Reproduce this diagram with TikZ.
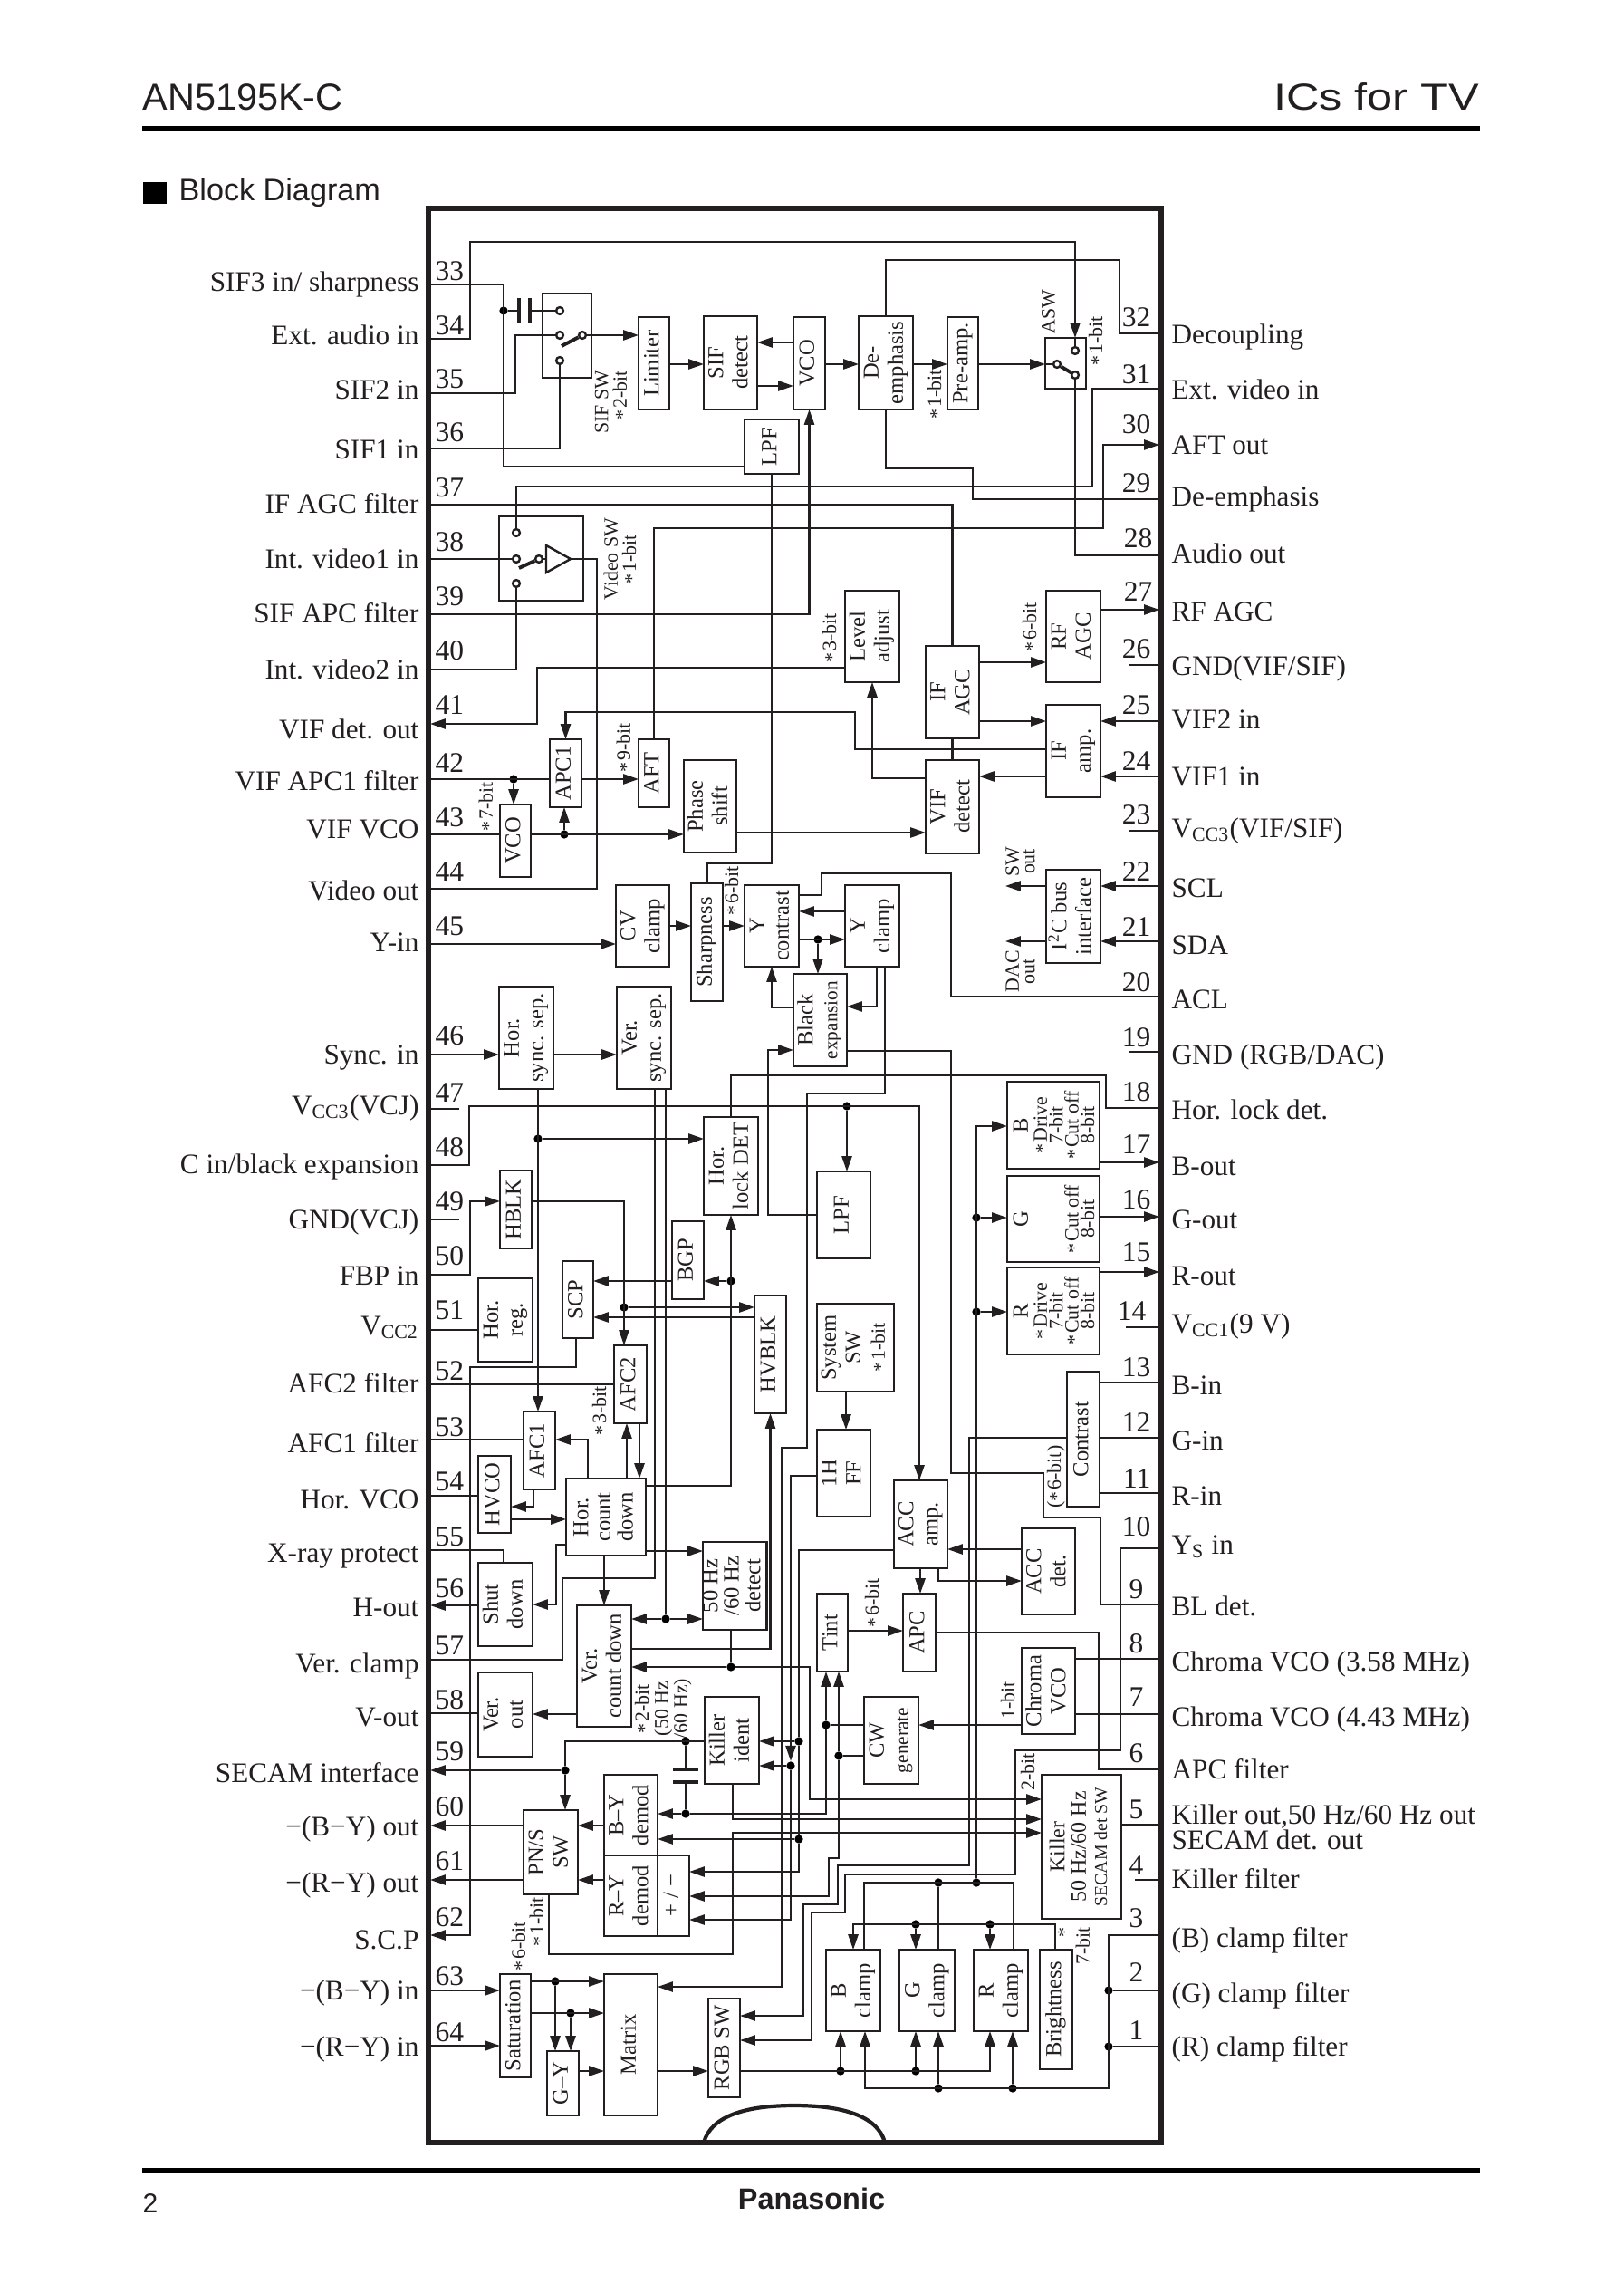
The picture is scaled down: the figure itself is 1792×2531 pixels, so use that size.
\documentclass[tikz,border=0pt]{standalone}
\usepackage{fontspec}
\setmainfont{Liberation Serif}
\newfontfamily\hdfont{Liberation Sans}
\usetikzlibrary{arrows.meta}
\definecolor{ink}{HTML}{231F20}
\newcommand{\rt}[2][c]{\rotatebox{90}{\begin{tabular}{@{}#1@{}}#2\end{tabular}}}
\newcommand{\stb}{\raisebox{-0.25ex}[0pt][0pt]{*}\hspace{0.6pt}}

\begin{document}
\begin{tikzpicture}[
    x=0.3333pt, y=-0.3333pt,
    color=ink,
    >={Triangle[length=5.6pt,width=3.7pt]},
    sz/.style 2 args = {minimum width=#1*0.3333pt, minimum height=#2*0.3333pt},
    blk/.style    = {draw, line width=0.8pt, anchor=north west, inner sep=0pt, outer sep=0pt,
                     font=\fontsize{8.2}{9}\selectfont},
    chipbox/.style= {draw, line width=1.7pt, anchor=north west, inner sep=0pt, outer sep=0pt},
    wr/.style     = {draw, line width=0.68pt},
    sig/.style    = {draw, line width=0.68pt, ->},
    plate/.style  = {draw, line width=1.3pt},
    blade/.style  = {draw, line width=1.3pt},
    dot/.style    = {circle, fill=black, inner sep=0pt, minimum size=3.1pt},
    contact/.style= {circle, draw, fill=white, line width=0.8pt, inner sep=0pt, minimum size=2.6pt},
    note/.style   = {inner sep=0pt, font=\fontsize{7.3}{5.8}\selectfont},
    pinnum/.style = {inner sep=0pt, font=\fontsize{10.5}{12}\selectfont},
    pinlbl/.style = {inner sep=0pt, font=\fontsize{10.4}{12}\selectfont},
    hd/.style     = {inner sep=0pt, font=\hdfont\fontsize{13.8}{16}\selectfont},
    hrule/.style  = {draw, color=black, line width=2pt},
  ]
  \path[use as bounding box, fill=white] (0,0) rectangle (1792,2531);

  % ===================================================================
  % Page header and footer
  % ===================================================================
  \node[hd, anchor=base west] (title) at (157,122) {AN5195K-C};
  \node[hd, anchor=base east] (family) at (1634,122) {\scalebox{1.22}[1]{ICs for TV}};
  \draw[hrule] (157,142) -- (1634,142);
  \node[fill=black, sz={26}{24}, anchor=north west, inner sep=0pt] (sq) at (157,200) {};
  \node[hd, anchor=base west, font=\hdfont\fontsize{11.4}{13}\selectfont] (head) at (197,222) {Block Diagram};
  \draw[hrule] (157,2396) -- (1634,2396);
  \node[hd, anchor=base west, font=\hdfont\fontsize{10}{12}\selectfont] (page) at (157,2442) {2};
  \node[hd, anchor=base, font=\hdfont\bfseries\fontsize{10.8}{13}\selectfont] (logo) at (896,2438) {Panasonic};

  % ===================================================================
  % Package outline with the notch
  % ===================================================================
  \node[chipbox, sz={809}{2135}] (chip) at (473,230) {};
  \draw[line width=1.4pt] (777,2365) .. controls (785,2335) and (825,2324) .. (877,2324)
    .. controls (929,2324) and (969,2335) .. (977,2365);

  % ----- left pins: number / wire y / number base / label base / label -----
  \foreach \n/\y/\b/\l/\s in {
      33/314/308/319/{SIF3 in/ sharpness}, 34/374/368/378/{Ext. audio in},
      35/434/427/438/{SIF2 in}, 36/495/486/504/{SIF1 in},
      37/557/547/564/{IF AGC filter}, 38/617/607/625/{Int. video1 in},
      39/678/667/685/{SIF APC filter}, 40/739/727/746/{Int. video2 in},
      41/799/787/813/{VIF det. out}, 42/860/851/869/{VIF APC1 filter},
      43/921/911/922/{VIF VCO}, 44/981/971/990/{Video out},
      45/1042/1031/1047/{Y-in}, 46/1164/1152/1171/{Sync. in},
      47/1224/1215/1227/{V\textsubscript{CC3}(VCJ)}, 48/1286/1275/1292/{C in/black expansion},
      49/1346/1335/1353/{GND(VCJ)}, 50/1407/1395/1415/{FBP in},
      51/1468/1455/1470/{V\textsubscript{CC2}}, 52/1528/1522/1534/{AFC2 filter},
      53/1589/1584/1600/{AFC1 filter}, 54/1651/1644/1662/{Hor. VCO},
      55/1711/1705/1721/{X-ray protect}, 56/1772/1762/1781/{H-out},
      57/1832/1825/1843/{Ver. clamp}, 58/1891/1885/1902/{V-out},
      59/1954/1942/1964/{SECAM interface}, 60/2015/2003/2023/{−(B−Y) out},
      61/2075/2063/2085/{−(R−Y) out}, 62/2136/2125/2148/{S.C.P},
      63/2197/2190/2204/{−(B−Y) in}, 64/2258/2252/2266/{−(R−Y) in}} {
    \coordinate (p\n) at (475,\y);
    \node[pinnum, anchor=base west] (num\n) at (480,\b+1.5) {\n};
    \node[pinlbl, anchor=base east] (lbl\n) at (463,\l+3) {\s};
  }

  % ----- right pins: number / number right edge / wire y / number base / label base / label -----
  \foreach \n/\r/\y/\b/\l/\s in {
      32/1271/368/359/377/{Decoupling}, 31/1271/429/422/438/{Ext. video in},
      30/1271/491/477/499/{AFT out}, 29/1271/551/542/556/{De-emphasis},
      28/1273/613/603/619/{Audio out}, 27/1273/673/662/683/{RF AGC},
      26/1271/734/725/743/{GND(VIF/SIF)}, 25/1271/796/787/801/{VIF2 in},
      24/1271/857/849/864/{VIF1 in}, 23/1271/917/908/921/{V\textsubscript{CC3}(VIF/SIF)},
      22/1271/978/971/987/{SCL}, 21/1271/1039/1032/1050/{SDA},
      20/1271/1100/1093/1110/{ACL}, 19/1271/1161/1154/1171/{GND (RGB/DAC)},
      18/1271/1223/1214/1232/{Hor. lock det.}, 17/1271/1283/1272/1294/{B-out},
      16/1271/1343/1333/1353/{G-out}, 15/1271/1404/1391/1415/{R-out},
      14/1266/1465/1456/1468/{V\textsubscript{CC1}(9 V)}, 13/1271/1526/1518/1536/{B-in},
      12/1271/1587/1579/1597/{G-in}, 11/1271/1648/1641/1658/{R-in},
      10/1271/1709/1694/1712/{Y\textsubscript{S} in}, 9/1263/1771/1763/1780/{BL det.},
      8/1263/1831/1823/1841/{Chroma VCO (3.58 MHz)}, 7/1263/1892/1882/1902/{Chroma VCO (4.43 MHz)},
      6/1263/1953/1944/1960/{APC filter}, 5/1263/2014/2006/2010/{Killer out,50 Hz/60 Hz out},
      4/1263/2075/2068/2081/{Killer filter}, 3/1263/2136/2126/2146/{(B) clamp filter},
      2/1263/2197/2186/2207/{(G) clamp filter}, 1/1263/2259/2250/2266/{(R) clamp filter}} {
    \coordinate (p\n) at (1280,\y);
    \node[pinnum, anchor=base east] (num\n) at (\r,\b+1.5) {\n};
    \node[pinlbl, anchor=base west] (lbl\n) at (1293,\l+3) {\s};
  }
  \node[pinlbl, anchor=base west] (lblsec) at (1293,2041) {SECAM det. out};

  % ===================================================================
  % Blocks (top left corner in reference pixels, then size)
  % ===================================================================
  \node[blk, sz={54}{93}] (sifsw) at (599,324) {};
  \node[blk, sz={34}{102}] (lim) at (705,350) {\rt{Limiter}};
  \node[blk, sz={59}{103}] (sifdet) at (777,349) {\rt{SIF\\detect}};
  \node[blk, sz={35}{102}] (vcoa) at (876,350) {\rt{VCO}};
  \node[blk, sz={60}{103}] (deem) at (948,349) {\rt{De-\\emphasis}};
  \node[blk, sz={34}{102}] (preamp) at (1046,350) {\rt{Pre-amp.}};
  \node[blk, sz={45}{56}] (asw) at (1154,373) {};
  \node[blk, sz={60}{60}] (lpfa) at (822,463) {\rt{LPF}};
  \node[blk, sz={93}{93}] (vidsw) at (551,570) {};
  \node[blk, sz={60}{101}] (lvl) at (933,652) {\rt{Level\\adjust}};
  \node[blk, sz={59}{102}] (ifagc) at (1022,713) {\rt{IF\\AGC}};
  \node[blk, sz={59}{103}] (vifdet) at (1022,839) {\rt{VIF\\detect}};
  \node[blk, sz={60}{101}] (rfagc) at (1155,652) {\rt{RF\\AGC}};
  \node[blk, sz={60}{102}] (ifamp) at (1155,778) {\rt{IF\\amp.}};
  \node[blk, sz={60}{103}] (itc) at (1155,960) {\rt{I\textsuperscript{2}C bus\\interface}};
  \node[blk, sz={35}{75}] (apcone) at (607,816) {\rt{APC1}};
  \node[blk, sz={34}{75}] (aft) at (705,816) {\rt{AFT}};
  \node[blk, sz={34}{80}] (vcob) at (552,888) {\rt{VCO}};
  \node[blk, sz={58}{102}] (phase) at (755,839) {\rt{Phase\\shift}};
  \node[blk, sz={59}{90}] (cvcl) at (680,977) {\rt{CV\\clamp}};
  \node[blk, sz={35}{130}] (sharp) at (763,975) {\rt{Sharpness}};
  \node[blk, sz={60}{90}] (ycon) at (822,977) {\rt{Y\\contrast}};
  \node[blk, sz={60}{90}] (ycl) at (933,977) {\rt{Y\\clamp}};
  \node[blk, sz={59}{102}] (black) at (876,1075)
    {\rt{Black\\{\fontsize{7.1}{9}\selectfont expansion}}};
  \node[blk, sz={60}{113}] (hsync) at (551,1089) {\rt{Hor.\\sync. sep.}};
  \node[blk, sz={60}{113}] (vsync) at (681,1089) {\rt{Ver.\\sync. sep.}};
  \node[blk, sz={60}{108}] (hlock) at (777,1233) {\rt{Hor.\\lock DET}};
  \node[blk, sz={59}{96}] (lpfb) at (902,1293) {\rt{LPF}};
  \node[blk, sz={102}{96}, font=\fontsize{7.3}{5.8}\selectfont] (bblk) at (1112,1194)
    {\hspace*{3.3pt}\rt{\smash{\fontsize{8.2}{5.8}\selectfont B}\\[1.2pt]\smash{\stb Drive}\\\smash{7-bit}\\\smash{\stb Cut off}\\\smash{8-bit}}};
  \node[blk, sz={102}{95}, font=\fontsize{7.3}{5.8}\selectfont] (gblk) at (1112,1298)
    {\hspace*{3.3pt}\rt{\smash{\fontsize{8.2}{5.8}\selectfont G}\\[1.2pt]~\\~\\\smash{\stb Cut off}\\\smash{8-bit}}};
  \node[blk, sz={102}{96}, font=\fontsize{7.3}{5.8}\selectfont] (rblk) at (1112,1399)
    {\hspace*{3.3pt}\rt{\smash{\fontsize{8.2}{5.8}\selectfont R}\\[1.2pt]\smash{\stb Drive}\\\smash{7-bit}\\\smash{\stb Cut off}\\\smash{8-bit}}};
  \node[blk, sz={35}{86}] (hblk) at (552,1292) {\rt{HBLK}};
  \node[blk, sz={35}{86}] (bgp) at (742,1348) {\rt{BGP}};
  \node[blk, sz={34}{85}] (scp) at (621,1392) {\rt{SCP}};
  \node[blk, sz={60}{92}] (hreg) at (528,1411) {\rt{Hor.\\reg.}};
  \node[blk, sz={35}{130}] (hvblk) at (833,1430) {\rt{HVBLK}};
  \node[blk, sz={85}{97}] (syssw) at (902,1439)
    {\rt{System\\SW\\{\fontsize{7.3}{9}\selectfont\stb 1-bit}}};
  \node[blk, sz={36}{149}] (contrast) at (1178,1514) {\rt{Contrast}};
  \node[blk, sz={36}{86}] (afctwo) at (678,1485) {\rt{AFC2}};
  \node[blk, sz={35}{86}] (afcone) at (578,1558) {\rt{AFC1}};
  \node[blk, sz={59}{96}] (ffh) at (902,1578) {\rt{1H\\FF}};
  \node[blk, sz={36}{85}] (hvco) at (528,1607) {\rt{HVCO}};
  \node[blk, sz={88}{85}, font=\fontsize{8.2}{8.2}\selectfont] (hcd) at (625,1632) {\rt{Hor.\\count\\down}};
  \node[blk, sz={59}{97}] (accamp) at (987,1634) {\rt{ACC\\amp.}};
  \node[blk, sz={59}{95}] (accdet) at (1128,1687) {\rt{ACC\\det.}};
  \node[blk, sz={70}{97}, font=\fontsize{8.2}{7.6}\selectfont] (detfifty) at (776,1702) {\rt{50 Hz\\/60 Hz\\detect}};
  \node[blk, sz={60}{92}] (shut) at (528,1725) {\rt{Shut\\down}};
  \node[blk, sz={36}{86}] (apc) at (997,1759) {\rt{APC}};
  \node[blk, sz={34}{86}] (tint) at (902,1759) {\rt{Tint}};
  \node[blk, sz={60}{134}] (vcd) at (637,1772) {\rt{Ver.\\count down}};
  \node[blk, sz={59}{95}] (chroma) at (1128,1819) {\rt{Chroma\\VCO}};
  \node[blk, sz={60}{93}] (vout) at (528,1846) {\rt{Ver.\\out}};
  \node[blk, sz={60}{96}] (kid) at (778,1873) {\rt{Killer\\ident}};
  \node[blk, sz={60}{96}] (cw) at (954,1873)
    {\rt{CW\\{\fontsize{7.1}{9}\selectfont generate}}};
  \node[blk, sz={88}{159}, font=\fontsize{8}{7.8}\selectfont] (killer) at (1150,1959)
    {\rt{Killer\\50 Hz/60 Hz\\{\fontsize{6.6}{7.8}\selectfont SECAM det SW}}};
  \node[blk, sz={59}{89}] (bydem) at (667,1959) {\rt{B–Y\\demod}};
  \node[blk, sz={59}{89}] (rydem) at (667,2048) {\rt{R–Y\\demod}};
  \node[blk, sz={35}{89}] (pm) at (726,2048) {\rt{+ / −}};
  \node[blk, sz={60}{93}] (pns) at (578,1998) {\rt{PN/S\\SW}};
  \node[blk, sz={60}{90}] (clb) at (912,2152) {\rt{B\\clamp}};
  \node[blk, sz={61}{90}] (clg) at (993,2152) {\rt{G\\clamp}};
  \node[blk, sz={60}{90}] (clr) at (1075,2152) {\rt{R\\clamp}};
  \node[blk, sz={36}{132}] (bright) at (1148,2152) {\rt{Brightness}};
  \node[blk, sz={34}{114}] (sat) at (552,2179) {\rt{Saturation}};
  \node[blk, sz={59}{156}] (matrix) at (667,2179) {\rt{Matrix}};
  \node[blk, sz={35}{109}] (rgbsw) at (782,2206) {\rt{RGB SW}};
  \node[blk, sz={35}{71}] (gy) at (604,2264) {\rt{G–Y}};

  % ----- bit notes -----
  \node[note] (nsif) at (677,444) {\rt[r]{SIF SW\\\stb 2-bit}};
  \node[note] (nvid) at (687,617) {\rt{Video SW\\\stb 1-bit}};
  \node[note] (npre) at (1034,435) {\rt{\stb 1-bit}};
  \node[note] (nasw) at (1160,344) {\rt{ASW}};
  \node[note] (nasb) at (1212,376) {\rt{\stb 1-bit}};
  \node[note] (nvco) at (539,890) {\rt{\stb 7-bit}};
  \node[note] (naft) at (691,825) {\rt{\stb 9-bit}};
  \node[note] (nyc) at (810,983) {\rt{\stb 6-bit}};
  \node[note] (nlvl) at (918,704) {\rt{\stb 3-bit}};
  \node[note] (nrf) at (1139,692) {\rt{\stb 6-bit}};
  \node[note] (nsw) at (1129,951) {\rt{SW\\out}};
  \node[note] (ndac) at (1129,1072) {\rt{DAC\\out}};
  \node[note] (nafc) at (664,1557) {\rt{\stb 3-bit}};
  \node[note, font=\fontsize{7.3}{6.8}\selectfont] (nver) at (733,1886)
    {\rt{\stb 2-bit\\(50 Hz\\/60 Hz)}};
  \node[note] (ntint) at (965,1769) {\rt{\stb 6-bit}};
  \node[note] (ncv) at (1115,1877) {\rt{1-bit}};
  \node[note] (ncon) at (1166,1630) {\rt{(\stb 6-bit)}};
  \node[note] (nkil) at (1137,1956) {\rt{2-bit}};
  \node[note] (npns) at (595,2121) {\rt{\stb 1-bit}};
  \node[note] (nsat) at (575,2148) {\rt{\stb 6-bit}};
  \node[note] (nbr) at (1188,2148) {\rt[r]{*\\7-bit}};

  % ----- switch contacts -----
  \node[contact] (cat) at (618,343) {};
  \node[contact] (cam) at (618,370) {};
  \node[contact] (cab) at (618,398) {};
  \node[contact] (car) at (643,370) {};
  \node[contact] (cbt) at (1187,387) {};
  \node[contact] (cbb) at (1187,414) {};
  \node[contact] (cbm) at (1167,402) {};
  \node[contact] (cct) at (570,588) {};
  \node[contact] (ccm) at (570,617) {};
  \node[contact] (ccb) at (570,644) {};
  \node[contact] (ccr) at (595,617) {};

  % ----- junction dots -----
  \node[dot] (dcap) at (556,343) {};
  \node[dot] (dvco) at (567,860) {};
  \node[dot] (dapc) at (623,921) {};
  \node[dot] (dhs) at (594,1257) {};
  \node[dot] (dlpf) at (935,1221) {};
  \node[dot] (dblk) at (903,1037) {};
  \node[dot] (dbgp) at (807,1414) {};
  \node[dot] (dscp) at (689,1443) {};
  \node[dot] (dgb) at (1078,1344) {};
  \node[dot] (drb) at (1078,1448) {};
  \node[dot] (dvs) at (735,1787) {};
  \node[dot] (dfty) at (807,1840) {};
  \node[dot] (dfh) at (873,1949) {};
  \node[dot] (dki) at (882,1922) {};
  \node[dot] (dby) at (882,2030) {};
  \node[dot] (dck) at (757,1922) {};
  \node[dot] (dcb) at (757,2002) {};
  \node[dot] (dpn) at (624,1954) {};
  \node[dot] (dtint) at (912,1904) {};
  \node[dot] (dcw) at (926,1938) {};
  \node[dot] (dclg) at (1036,2078) {};
  \node[dot] (dct) at (1078,2078) {};
  \node[dot] (dbg) at (1011,2124) {};
  \node[dot] (dbr) at (1093,2124) {};
  \node[dot] (drgb) at (928,2286) {};
  \node[dot] (drgg) at (1011,2286) {};
  \node[dot] (dfg) at (1036,2305) {};
  \node[dot] (dfr) at (1118,2305) {};
  \node[dot] (dptwo) at (1224,2197) {};
  \node[dot] (dpone) at (1224,2259) {};
  \node[dot] (dgyb) at (613,2187) {};
  \node[dot] (dgyr) at (630,2222) {};

  % ===================================================================
  % Sound section (pins 28--40)
  % ===================================================================
  \draw[wr] (p33) -| (556,515) -- (lpfa.west |- 0,515);
  \draw[wr] (dcap) -- (573,343);
  \draw[wr] (585,343) -- (cat);
  \draw[plate] (573,329) -- (573,357);
  \draw[plate] (585,329) -- (585,357);
  \draw[sig] (p34) -| (519,267) -| (asw.north -| cbt);
  \draw[wr] (asw.north -| cbt) -- (cbt);
  \draw[wr] (p35) -| (569,370) -- (cam);
  \draw[wr] (p36) -| (cab);
  \draw[blade] (620,382) -- (car);
  \draw[sig] (car) -- (lim.west |- car);
  \draw[sig] (lim.east |- 0,402) -- (sifdet.west |- 0,402);
  \draw[sig] (vcoa.west |- 0,378) -- (sifdet.east |- 0,378);
  \draw[sig] (sifdet.east |- 0,426) -- (vcoa.west |- 0,426);
  \draw[sig] (vcoa.east |- 0,402) -- (deem.west |- 0,402);
  \draw[sig] (deem.east |- 0,402) -- (preamp.west |- 0,402);
  \draw[sig] (preamp.east |- 0,402) -- (asw.west |- 0,402);
  \draw[wr] (asw.west |- 0,402) -- (cbm);
  \draw[blade] (cbm) -- (cbb);
  \draw[wr] (cbb) |- (p28);
  \draw[wr] (deem.north) |- (1236,287) |- (p32);
  \draw[wr] (deem.south) |- (1074,517) |- (p29);
  \draw[wr] (p37) -| (ifagc.north);
  \draw[wr] (ifagc.south) -- (vifdet.north);
  \draw[wr] (p38) -- (ccm);
  \draw[blade] (573,627) -- (ccr);
  \draw[wr] (ccr) -- (603,617);
  \coordinate (vtip) at (630,617);
  \draw[line width=0.8pt] (603,602) -- (603,632) -- (vtip) -- cycle;
  \draw[wr] (p44) -| (659,617) -- (vtip);
  \draw[wr] (cct) |- (1206,537) |- (p31);
  \draw[wr] (p40) -| (ccb);
  \draw[sig] (p39) -| (vcoa.south);
  \draw[wr] (lpfa.south) -- (852,953) -| (sharp.north);

  % ===================================================================
  % Video IF section (pins 20--27, 41--45)
  % ===================================================================
  \draw[sig] (aft.north) |- (1218,583) |- (p30);
  \draw[sig] (lvl.west |- 0,737) -| (593,799) -- (p41);
  \draw[sig] (vifdet.west |- 0,859) -| (lvl.south);
  \draw[sig] (ifamp.west |- 0,827) -| (944,786) -| (apcone.north);
  \draw[wr] (p42) -- (apcone.west |- p42);
  \draw[sig] (dvco) -- (vcob.north -| dvco);
  \draw[sig] (apcone.east |- p42) -- (aft.west |- p42);
  \draw[wr] (p43) -- (vcob.west |- p43);
  \draw[sig] (vcob.east |- p43) -- (phase.west |- p43);
  \draw[sig] (dapc) -- (apcone.south -| dapc);
  \draw[sig] (phase.east |- 0,919) -- (vifdet.west |- 0,919);
  \draw[sig] (p45) -- (cvcl.west |- p45);
  \draw[sig] (ifagc.east |- 0,731) -- (rfagc.west |- 0,731);
  \draw[sig] (ifagc.east |- p25) -- (ifamp.west |- p25);
  \draw[sig] (p25) -- (ifamp.east |- p25);
  \draw[sig] (p24) -- (ifamp.east |- p24);
  \draw[sig] (ifamp.west |- p24) -- (vifdet.east |- p24);
  \draw[sig] (rfagc.east |- p27) -- (p27);
  \coordinate (stbtf) at (1247,734);
  \coordinate (stbtt) at (1247,917);
  \coordinate (stbot) at (1247,1161);
  \coordinate (stbft) at (1243,1465);
  \coordinate (stbfr) at (1253,2075);
  \coordinate (stbfs) at (507,1224);
  \coordinate (stbfn) at (507,1346);
  \draw[wr] (stbtf) -- (p26);
  \draw[wr] (stbtt) -- (p23);
  \draw[wr] (stbot) -- (p19);
  \draw[wr] (stbft) -- (p14);
  \draw[wr] (stbfr) -- (p4);
  \draw[wr] (p47) -- (stbfs);
  \draw[wr] (p49) -- (stbfn);
  \draw[sig] (p22) -- (itc.east |- p22);
  \draw[sig] (p21) -- (itc.east |- p21);
  \coordinate (swout) at (1110,978);
  \coordinate (dacout) at (1110,1039);
  \draw[sig] (itc.west |- swout) -- (swout);
  \draw[sig] (itc.west |- dacout) -- (dacout);

  % ===================================================================
  % Luminance path
  % ===================================================================
  \draw[wr] (p20) -| (1050,964) -| (907,988) -- (ycon.east |- 0,988);
  \draw[sig] (cvcl.east |- 0,1022) -- (sharp.west |- 0,1022);
  \draw[sig] (sharp.east |- 0,1022) -- (ycon.west |- 0,1022);
  \draw[sig] (ycl.west |- 0,1006) -- (ycon.east |- 0,1006);
  \draw[sig] (ycon.east |- 0,1037) -- (ycl.west |- 0,1037);
  \draw[sig] (dblk) -- (black.north -| dblk);
  \draw[sig] (ycl.south -| 968,0) |- (black.east |- 0,1111);
  \draw[sig] (ycl.south -| 977,0) |- (891,1207) |- (863,1598) |- (matrix.east |- 0,2193);
  \draw[sig] (black.west |- 0,1112) -| (ycon.south);
  \draw[wr] (black.east |- 0,1160) -| (1050,1626) -| (1152,1675) -| (1215,1771) -- (p9);
  \draw[sig] (lpfb.west |- 0,1341) -| (848,1159) -- (black.west |- 0,1159);

  % ===================================================================
  % Sync and deflection (pins 46--58)
  % ===================================================================
  \draw[sig] (p46) -- (hsync.west |- p46);
  \draw[sig] (hsync.east |- p46) -- (vsync.west |- p46);
  \draw[sig] (hsync.south -| 594,0) -- (afcone.north -| 594,0);
  \draw[sig] (dhs) -- (hlock.west |- dhs);
  \draw[wr] (vsync.south -| 723,0) |- (621,1742) |- (p57);
  \draw[wr] (vsync.south -| 735,0) -- (dvs);
  \draw[sig] (dvs) -- (vcd.east |- dvs);
  \draw[sig] (dvs) -- (detfifty.west |- dvs);
  \draw[wr] (hlock.north -| 807,0) |- (1221,1187) |- (p18);
  \draw[sig] (hcd.east |- 0,1640) -| (hlock.south -| 807,0);
  \draw[sig] (dbgp) -- (bgp.east |- dbgp);
  \draw[sig] (bgp.west |- dbgp) -- (scp.east |- dbgp);
  \draw[sig] (hblk.east |- 0,1326) -| (afctwo.north -| 689,0);
  \draw[sig] (dscp) -- (hvblk.west |- dscp);
  \draw[sig] (hvblk.west |- 0,1454) -- (scp.east |- 0,1454);
  \draw[sig] (scp.south -| 636,0) |- (519,1509) |- (p62);
  \draw[sig] (p48) -| (518,1221) -| (accamp.north -| 1015,0);
  \draw[sig] (dlpf) -- (lpfb.north -| dlpf);
  \draw[sig] (p50) -| (519,1326) -- (hblk.west |- 0,1326);
  \draw[wr] (p51) -- (hreg.west |- p51);
  \draw[wr] (p52) -- (afctwo.west |- p52);
  \draw[wr] (p53) -- (afcone.west |- p53);
  \draw[wr] (p54) -- (hvco.west |- p54);
  \draw[sig] (afcone.south -| 589,0) |- (hvco.east |- 0,1663);
  \draw[sig] (hvco.east |- 0,1677) -- (hcd.west |- 0,1677);
  \draw[sig] (hcd.north -| 649,0) |- (afcone.east |- 0,1589);
  \draw[sig] (hcd.north -| 692,0) -- (afctwo.south -| 692,0);
  \draw[sig] (afctwo.south -| 706,0) -- (hcd.north -| 706,0);
  \draw[sig] (hcd.east |- 0,1712) -- (detfifty.west |- 0,1712);
  \draw[sig] (hcd.west |- 0,1705) -| (614,1771) -- (shut.east |- 0,1771);
  \draw[sig] (hcd.south -| 667,0) -- (vcd.north -| 667,0);
  \draw[wr] (p55) -| (shut.north -| 556,0);
  \draw[sig] (shut.west |- p56) -- (p56);
  \draw[wr] (p58) -- (vout.west |- p58);
  \draw[sig] (vcd.west |- 0,1892) -- (vout.east |- 0,1892);
  \draw[sig] (vcd.east |- 0,1820) -| (hvblk.south);
  \draw[wr] (detfifty.south -| 807,0) -- (dfty);
  \draw[sig] (dfty) -- (vcd.east |- dfty);
  \draw[sig] (dfty) -| (894,1986) -- (killer.west |- 0,1986);

  % ===================================================================
  % Chroma and colour difference path
  % ===================================================================
  \draw[sig] (kid.south -| 809,0) |- (killer.west |- 0,2008);
  \draw[sig] (pns.south -| 606,0) |- (809,2157) |- (killer.west |- 0,2023);
  \draw[sig] (ffh.west |- 0,1629) -| (dfh);
  \draw[sig] (dfh) -- (kid.east |- dfh);
  \draw[sig] (dfh) |- (pm.east |- 0,2119);
  \draw[wr] (accamp.west |- 0,1711) -| (dki);
  \draw[sig] (dki) -- (kid.east |- dki);
  \draw[wr] (dki) -- (dby);
  \draw[sig] (dby) -- (bydem.east |- dby);
  \draw[sig] (dby) |- (pm.east |- 0,2066);
  \draw[wr] (kid.west |- 0,1922) -| (dpn);
  \draw[sig] (dpn) -- (pns.north -| dpn);
  \draw[sig] (dpn) -- (p59);
  \draw[wr] (dck) -- (757,1953);
  \draw[plate] (743,1953) -- (771,1953);
  \draw[plate] (743,1967) -- (771,1967);
  \draw[wr] (757,1967) -- (dcb);
  \draw[sig] (dcb) -- (bydem.east |- dcb);
  \draw[wr] (dcb) -| (dtint);
  \draw[sig] (dtint) -- (tint.south -| dtint);
  \draw[wr] (dtint) -- (cw.west |- dtint);
  \draw[sig] (dcw) -- (tint.south -| dcw);
  \draw[wr] (dcw) -- (cw.west |- dcw);
  \draw[sig] (dcw) |- (915,2051) |- (pm.east |- 0,2093);
  \draw[sig] (chroma.west |- 0,1904) -- (cw.east |- 0,1904);
  \draw[sig] (tint.east |- 0,1800) -- (apc.west |- 0,1800);
  \draw[sig] (syssw.south -| 934,0) -- (ffh.north -| 934,0);
  \draw[sig] (accamp.south -| 1016,0) -- (apc.north -| 1016,0);
  \draw[sig] (accdet.west |- 0,1710) -- (accamp.east |- 0,1710);
  \draw[sig] (accamp.south -| 1036,0) |- (accdet.west |- 0,1745);
  \draw[wr] (apc.east |- 0,1802) -| (1213,1953) -- (p6);
  \draw[wr] (chroma.east |- p8) -- (p8);
  \draw[wr] (chroma.east |- p7) -- (p7);
  \draw[wr] (killer.east |- p5) -- (p5);
  \draw[sig] (bydem.west |- p60) -- (pns.east |- p60);
  \draw[sig] (rydem.west |- p61) -- (pns.east |- p61);
  \draw[sig] (pns.west |- p60) -- (p60);
  \draw[sig] (pns.west |- p61) -- (p61);

  % ===================================================================
  % RGB section: matrix, clamps, outputs
  % ===================================================================
  \draw[sig] (p63) -- (sat.west |- p63);
  \draw[sig] (p64) -- (sat.west |- p64);
  \draw[sig] (sat.east |- dgyb) -- (matrix.west |- dgyb);
  \draw[sig] (sat.east |- dgyr) -- (matrix.west |- dgyr);
  \draw[sig] (dgyb) -- (gy.north -| dgyb);
  \draw[sig] (dgyr) -- (gy.north -| dgyr);
  \draw[sig] (gy.east |- 0,2286) -- (matrix.west |- 0,2286);
  \draw[sig] (matrix.east |- 0,2286) -- (rgbsw.west |- 0,2286);
  \draw[sig] (p10) -| (1237,1932) -| (1121,2069) -| (933,2111) -| (896,2252) -- (rgbsw.east |- 0,2252);
  \draw[sig] (contrast.west |- p12) -| (1070,2059) -| (925,2102) -| (887,2225) -- (rgbsw.east |- 0,2225);
  \draw[wr] (contrast.east |- p13) -- (p13);
  \draw[wr] (contrast.east |- p12) -- (p12);
  \draw[wr] (contrast.east |- p11) -- (p11);
  \draw[sig] (rgbsw.east |- 0,2286) -| (clr.south -| 1093,0);
  \draw[sig] (drgb) -- (clb.south -| drgb);
  \draw[sig] (drgg) -- (clg.south -| drgg);
  \draw[sig] (p3) -| (1224,2305) -| (clb.south -| 955,0);
  \draw[sig] (dfg) -- (clg.south -| dfg);
  \draw[sig] (dfr) -- (clr.south -| dfr);
  \draw[wr] (dptwo) -- (p2);
  \draw[wr] (dpone) -- (p1);
  \draw[wr] (clb.north -| 954,0) |- (1119,2078) -- (clr.north -| 1119,0);
  \draw[wr] (dclg) -- (clg.north -| dclg);
  \draw[sig] (dct) |- (bblk.west |- 0,1243);
  \draw[sig] (dgb) -- (gblk.west |- dgb);
  \draw[sig] (drb) -- (rblk.west |- drb);
  \draw[sig] (bright.north -| 1165,0) |- (942,2124) -- (clb.north -| 942,0);
  \draw[sig] (dbg) -- (clg.north -| dbg);
  \draw[sig] (dbr) -- (clr.north -| dbr);
  \draw[sig] (bblk.east |- p17) -- (p17);
  \draw[sig] (gblk.east |- p16) -- (p16);
  \draw[sig] (rblk.east |- p15) -- (p15);

\end{tikzpicture}
\end{document}
